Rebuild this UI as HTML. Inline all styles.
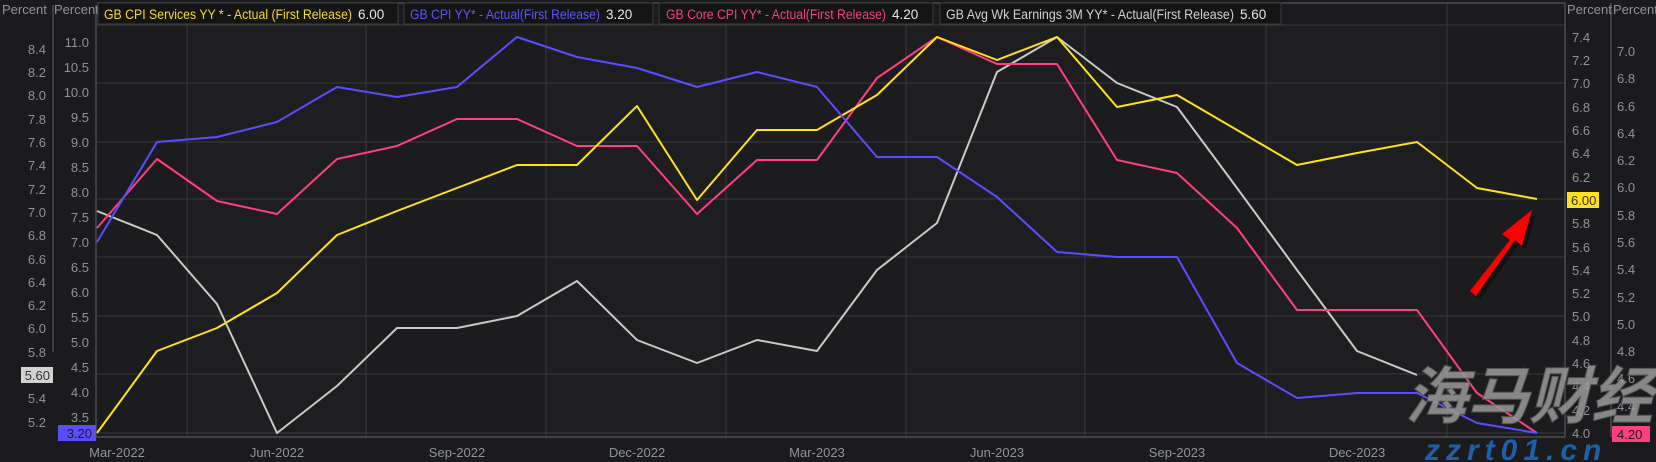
<!DOCTYPE html>
<html><head><meta charset="utf-8"><style>
html,body{margin:0;padding:0;background:#1b1b1d;width:1656px;height:462px;overflow:hidden}
svg{display:block;font-family:"Liberation Sans",Arial,sans-serif}
.t{fill:#8d939b;font-size:13px}
.lg{font-size:13.5px}
</style></head><body>
<svg width="1656" height="462" viewBox="0 0 1656 462">
<rect width="1656" height="462" fill="#1b1b1d"/>
<rect x="97" y="25" width="1468" height="412" fill="#1c1c1e"/>
<rect x="187" y="25" width="180" height="412" fill="#1e1e20"/>
<rect x="546" y="25" width="180" height="412" fill="#1e1e20"/>
<rect x="906" y="25" width="180" height="412" fill="#1e1e20"/>
<rect x="1266" y="25" width="181" height="412" fill="#1e1e20"/>
<g stroke="#3a3a3d" stroke-width="1">
<line x1="187" y1="3" x2="187" y2="437"/><line x1="366" y1="25" x2="366" y2="437"/><line x1="546" y1="25" x2="546" y2="437"/><line x1="726" y1="25" x2="726" y2="437"/><line x1="906" y1="25" x2="906" y2="437"/><line x1="1085" y1="25" x2="1085" y2="437"/><line x1="1266" y1="25" x2="1266" y2="437"/><line x1="1447" y1="3" x2="1447" y2="437"/>
<line x1="97" y1="83" x2="1565" y2="83"/><line x1="97" y1="142" x2="1565" y2="142"/><line x1="97" y1="199" x2="1565" y2="199"/><line x1="97" y1="257" x2="1565" y2="257"/><line x1="97" y1="316" x2="1565" y2="316"/><line x1="97" y1="374" x2="1565" y2="374"/><line x1="97" y1="433" x2="1565" y2="433"/>
<line x1="97" y1="25" x2="1565" y2="25"/>
</g>
<g stroke="#55575c" stroke-width="1.2">
<line x1="53" y1="5" x2="53" y2="352"/><line x1="96" y1="5" x2="96" y2="437"/>
<line x1="1565" y1="3" x2="1565" y2="437"/><line x1="1611" y1="3" x2="1611" y2="437"/>
<line x1="96" y1="437" x2="1565" y2="437"/>
<line x1="97" y1="3" x2="1565" y2="3"/>
</g>
<g class="t">
<text x="2" y="14">Percent</text><text x="54" y="14">Percent</text>
<text x="1567" y="14">Percent</text><text x="1613" y="14">Percent</text>
</g>
<g class="t" text-anchor="end">
<text x="46" y="54">8.4</text><text x="46" y="77">8.2</text><text x="46" y="100">8.0</text><text x="46" y="124">7.8</text><text x="46" y="147">7.6</text><text x="46" y="170">7.4</text><text x="46" y="194">7.2</text><text x="46" y="217">7.0</text><text x="46" y="240">6.8</text><text x="46" y="264">6.6</text><text x="46" y="287">6.4</text><text x="46" y="310">6.2</text><text x="46" y="333">6.0</text><text x="46" y="357">5.8</text><text x="46" y="403">5.4</text><text x="46" y="427">5.2</text>
</g>
<g class="t" text-anchor="end">
<text x="89" y="47">11.0</text><text x="89" y="72">10.5</text><text x="89" y="97">10.0</text><text x="89" y="122">9.5</text><text x="89" y="147">9.0</text><text x="89" y="172">8.5</text><text x="89" y="197">8.0</text><text x="89" y="222">7.5</text><text x="89" y="247">7.0</text><text x="89" y="272">6.5</text><text x="89" y="297">6.0</text><text x="89" y="322">5.5</text><text x="89" y="347">5.0</text><text x="89" y="372">4.5</text><text x="89" y="397">4.0</text><text x="89" y="422">3.5</text>
</g>
<g class="t">
<text x="1572" y="42">7.4</text><text x="1572" y="65">7.2</text><text x="1572" y="88">7.0</text><text x="1572" y="112">6.8</text><text x="1572" y="135">6.6</text><text x="1572" y="158">6.4</text><text x="1572" y="182">6.2</text><text x="1572" y="228">5.8</text><text x="1572" y="252">5.6</text><text x="1572" y="275">5.4</text><text x="1572" y="298">5.2</text><text x="1572" y="321">5.0</text><text x="1572" y="345">4.8</text><text x="1572" y="368">4.6</text><text x="1572" y="391">4.4</text><text x="1572" y="415">4.2</text><text x="1572" y="438">4.0</text>
</g>
<g class="t">
<text x="1617" y="56">7.0</text><text x="1617" y="83">6.8</text><text x="1617" y="111">6.6</text><text x="1617" y="138">6.4</text><text x="1617" y="165">6.2</text><text x="1617" y="192">6.0</text><text x="1617" y="220">5.8</text><text x="1617" y="247">5.6</text><text x="1617" y="274">5.4</text><text x="1617" y="302">5.2</text><text x="1617" y="329">5.0</text><text x="1617" y="356">4.8</text><text x="1617" y="383">4.6</text><text x="1617" y="411">4.4</text>
</g>
<g class="t" text-anchor="middle">
<text x="117" y="457">Mar-2022</text><text x="277" y="457">Jun-2022</text><text x="457" y="457">Sep-2022</text><text x="637" y="457">Dec-2022</text><text x="817" y="457">Mar-2023</text><text x="997" y="457">Jun-2023</text><text x="1177" y="457">Sep-2023</text><text x="1357" y="457">Dec-2023</text>
</g>
<g fill="none" stroke-width="2" stroke-linejoin="round">
<polyline stroke="#c9c9c9" points="97,211 157,235 217,304 277,433 337,386 397,328 457,328 517,316 577,281 637,340 697,363 757,340 817,351 877,270 937,223 997,72 1057,37 1117,83 1177,107 1237,188 1297,270 1357,351 1417,375"/>
<polyline stroke="#ff3f80" points="97,228 157,159 217,201 277,214 337,159 397,146 457,119 517,119 577,146 637,146 697,214 757,160 817,160 877,78 937,37 997,64 1057,64 1117,160 1177,173 1237,228 1297,310 1357,310 1417,310 1477,393 1537,433"/>
<polyline stroke="#ffe21c" points="97,433 157,351 217,328 277,293 337,235 397,211 457,188 517,165 577,165 637,106 697,200 757,130 817,130 877,95 937,37 997,60 1057,37 1117,107 1177,95 1237,130 1297,165 1357,153 1417,142 1477,188 1537,199"/>
<polyline stroke="#5a4dff" points="97,242 157,142 217,137 277,122 337,87 397,97 457,87 517,37 577,57 637,68 697,87 757,72 817,87 877,157 937,157 997,197 1057,252 1117,257 1177,257 1237,363 1297,398 1357,393 1417,393 1477,423 1537,433"/>
</g>
<g>
<rect x="98" y="3" width="300" height="21" fill="#141415" stroke="#3c3c3f"/>
<text class="lg" x="104" y="19" fill="#f3dc25" textLength="248" lengthAdjust="spacingAndGlyphs">GB CPI Services YY * - Actual (First Release)</text><text class="lg" x="358" y="19" fill="#e6e6e6">6.00</text>
<rect x="404" y="3" width="249" height="21" fill="#141415" stroke="#3c3c3f"/>
<text class="lg" x="410" y="19" fill="#5d55ff" textLength="190" lengthAdjust="spacingAndGlyphs">GB CPI YY* - Actual(First Release)</text><text class="lg" x="606" y="19" fill="#e6e6e6">3.20</text>
<rect x="659" y="3" width="274" height="21" fill="#141415" stroke="#3c3c3f"/>
<text class="lg" x="666" y="19" fill="#f2437e" textLength="220" lengthAdjust="spacingAndGlyphs">GB Core CPI YY* - Actual(First Release)</text><text class="lg" x="892" y="19" fill="#e6e6e6">4.20</text>
<rect x="940" y="3" width="341" height="21" fill="#141415" stroke="#3c3c3f"/>
<text class="lg" x="946" y="19" fill="#d0d0d0" textLength="288" lengthAdjust="spacingAndGlyphs">GB Avg Wk Earnings 3M YY* - Actual(First Release)</text><text class="lg" x="1240" y="19" fill="#e6e6e6">5.60</text>
</g>
<rect x="58" y="425" width="38" height="16" fill="#5a4dff"/><text x="92" y="438" font-size="13" text-anchor="end" fill="#1b1b1d">3.20</text>
<rect x="21" y="367" width="32" height="16" fill="#d2d2d2"/><text x="50" y="380" font-size="13" text-anchor="end" fill="#333">5.60</text>
<rect x="1567" y="192" width="32" height="16" fill="#ffe21c"/><text x="1571" y="205" font-size="13" fill="#333">6.00</text>
<rect x="1612" y="426" width="38" height="16" fill="#ff3f80"/><text x="1617" y="439" font-size="13" fill="#1b1b1d">4.20</text>
<g transform="translate(4,4)" opacity="0.35"><polygon points="1470,291 1510,240 1502,234 1532,210 1522,246 1515,240 1476,296" fill="#000"/></g>
<polygon points="1470,291 1510,240 1502,234 1532,210 1522,246 1515,240 1476,296" fill="#f00"/>
<text x="1405" y="418" font-size="62" font-weight="bold" font-style="italic" fill="#9a9a9a" fill-opacity="0.85" font-family="'Noto Sans CJK SC','WenQuanYi Zen Hei',sans-serif" stroke="#555" stroke-width="1">海马财经</text>
<text x="1425" y="460" font-size="30" font-weight="bold" font-style="italic" fill="#1f5fa8" letter-spacing="6">zzrt01.cn</text>
</svg>
</body></html>
